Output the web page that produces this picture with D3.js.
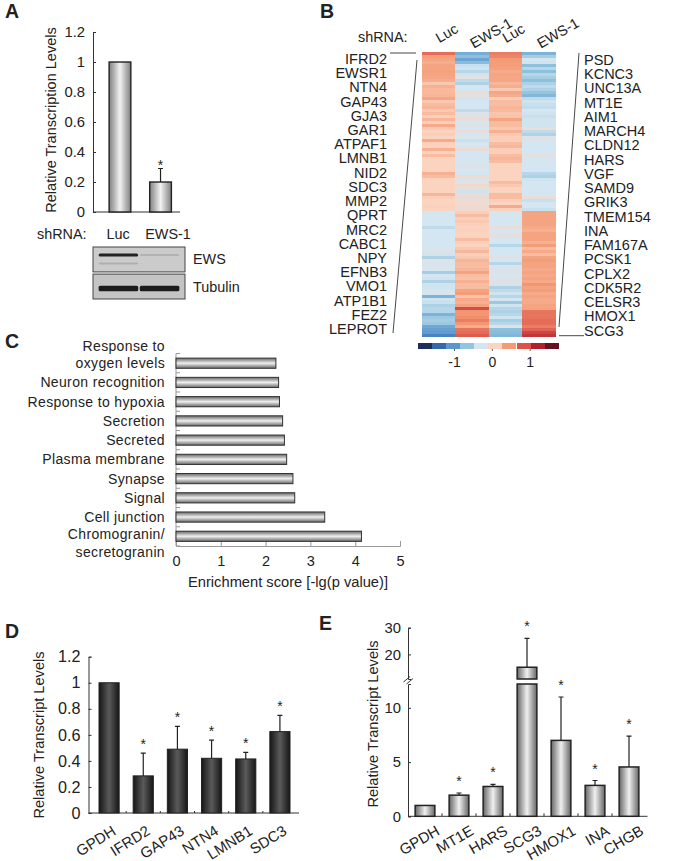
<!DOCTYPE html>
<html><head><meta charset="utf-8">
<script src="https://d3js.org/d3.v7.min.js"></script>
<style>
html,body{margin:0;padding:0;background:#fff}
svg{display:block}
text{font-family:"Liberation Sans",Arial,sans-serif;fill:#222}
</style></head><body><svg id="c" width="675" height="861"></svg>
<script>
// ---------- DATA ----------
const aCats=["Luc","EWS-1"], aVals=[1,0.2], aErr=[null,0.29], aStar=[false,true];
const aTicks=[0,0.2,0.4,0.6,0.8,1,1.2];
const blotRows=["EWS","Tubulin"];
const blotBands=[
 {row:0,lane:0,level:0.9,pos:0.32,h:3},{row:0,lane:0,level:0.15,pos:0.66,h:2},
 {row:0,lane:1,level:0.18,pos:0.32,h:1.6},
 {row:1,lane:0,level:.95,pos:0.58,h:5.5},{row:1,lane:1,level:.95,pos:0.58,h:5.5}];
const heatCols=["Luc","EWS-1","Luc","EWS-1"];
const leftGenes=["IFRD2","EWSR1","NTN4","GAP43","GJA3","GAR1","ATPAF1","LMNB1","NID2","SDC3","MMP2","QPRT","MRC2","CABC1","NPY","EFNB3","VMO1","ATP1B1","FEZ2","LEPROT"];
const rightGenes=["PSD","KCNC3","UNC13A","MT1E","AIM1","MARCH4","CLDN12","HARS","VGF","SAMD9","GRIK3","TMEM154","INA","FAM167A","PCSK1","CPLX2","CDK5R2","CELSR3","HMOX1","SCG3"];
const heatLuc1=[.85,.55,.5,.42,.5,.5,.52,.5,.48,.42,.2,.4,.32,.32,.35,.48,.2,.3,.35,.2,.3,.15,.35,.15,
 .45,.2,.1,.15,.1,.45,.12,.1,.4,.1,.3,.1,.1,.1,.1,.1,.4,.3,.1,.1,.1,.1,.1,.35,
 .15,.1,.1,.12,.1,
 -.28,-.28,-.28,-.28,-.28,-.4,-.28,-.28,-.28,-.28,-.28,-.28,-.28,-.2,-.3,-.5,-.25,-.2,-.28,
 -.25,-.55,-.28,-.3,-.5,-.3,-.3,-.28,-.25,-.85,-.3,-.35,-.5,-.45,-.45,-.85,-.6,-.55,-.6,-.95,-1.05,-1.1,-1.3];
const heatEws1=[-.9,-.7,-1,-.75,-.35,-.3,-.45,-.3,-.15,-.4,-.5,-.25,-.28,-.08,-.12,-.3,-.28,-.28,-.28,-.4,-.2,-.15,-.1,-.28,
 -.2,-.28,-.1,-.28,-.25,-.35,-.25,-.25,-.05,-.28,-.28,-.28,-.25,-.28,-.2,-.28,-.28,-.05,-.15,-.25,0,-.1,-.3,-.1,
 -.05,-.1,0,-.05,0,
 .15,.3,.15,.2,.12,.1,.12,.1,.1,.3,.15,.1,.2,.35,.15,.2,.35,.3,.3,
 .35,.5,.3,.25,.4,.3,.3,.5,.55,.25,.45,.4,.5,1.05,.6,.6,.65,.75,.6,.45,.8,.85,.95];
const heatLuc2=[.75,.7,.58,.55,.55,.52,.45,.5,.48,.48,.35,.42,.2,.48,.42,.15,.3,.28,.35,.32,.22,.25,.5,.3,
 .3,.2,.4,.2,.15,.15,.3,.35,.15,.15,.3,.35,.3,.1,.1,.1,.1,.1,.1,.3,.2,.1,.1,.3,
 .3,.15,.1,.45,.12,
 -.28,-.25,-.28,-.28,-.28,-.1,-.28,-.2,-.1,-.28,-.28,-.45,-.28,-.28,-.28,-.2,-.28,-.45,-.28,
 -.2,-.22,-.25,-.2,-.2,-.2,-.5,-.4,-.3,-.45,-.28,-.6,-.3,-.45,-.5,-.45,-.3,-.55,-.45,-.15,-.7,-.75,-.8];
const heatEws2=[-.85,-.55,-.25,-.3,-.7,-.45,-.7,-.45,-.55,-.7,-.5,-.4,-.5,-.65,-.8,-.4,-.3,-.35,-.38,-.28,-.3,-.35,-.3,-.3,
 -.3,-.1,-.4,-.5,-.2,-.2,-.28,-.28,-.28,-.28,-.15,-.28,-.28,-.28,-.28,-.28,-.45,-.5,-.3,-.28,-.28,-.28,-.28,-.28,
 -.1,-.35,-.28,-.28,-.35,
 .5,.5,.5,.5,.5,.45,.4,.5,.5,.5,.4,.55,.3,.45,.3,.5,.55,.5,.5,
 .45,.5,.45,.5,.45,.6,.5,.55,.45,.5,.45,.45,.5,.5,.8,.8,.8,.85,.85,.75,.9,1.1,1.2];
const heatPalette=["#1f2d5e","#3566b0","#5b97cf","#93c5df","#d4e6f1","#fbd5c2","#f49a74","#db5249","#b2202e","#680f24"];
const keyStops=[-1.77,-1.40,-1.03,-.65,-.28,.09,.46,.84,1.21,1.58];
const cellStops=[-1.77,-1.50,-1.15,-.65,-.28,.09,.58,1.0,1.35,1.7];
const legendTicks=[-1,0,1];
const cCats=["Response to\noxygen levels","Neuron recognition","Response to hypoxia","Secretion","Secreted","Plasma membrane","Synapse","Signal","Cell junction","Chromogranin/\nsecretogranin"];
const cVals=[2.23,2.29,2.31,2.38,2.42,2.47,2.61,2.65,3.32,4.14];
const cTicks=[0,1,2,3,4,5];
const dCats=["GPDH","IFRD2","GAP43","NTN4","LMNB1","SDC3"];
const dVals=[1,.285,.49,.42,.415,.625], dErr=[null,.46,.665,.56,.465,.75];
const dTicks=[0,.2,.4,.6,.8,1,1.2];
const eCats=["GPDH","MT1E","HARS","SCG3","HMOX1","INA","CHGB"];
const eVals=[1,1.95,2.75,15.2,7,2.85,4.55], eErr=[null,2.15,2.95,26,11,3.3,7.4];
const eTicksLow=[0,5,10], eTicksHigh=[20,30];
const eLowMax=12.2, eHighMin=10.8;
// ---------- HELPERS ----------
const svg=d3.select("#c"), defs=svg.append("defs");
const ink="#222";
function grad(id,horizontal,edge,mid){
  const g=defs.append("linearGradient").attr("id",id).attr("x1",0).attr("y1",0)
    .attr("x2",horizontal?1:0).attr("y2",horizontal?0:1);
  g.append("stop").attr("offset","0%").attr("stop-color",edge);
  g.append("stop").attr("offset","50%").attr("stop-color",mid);
  g.append("stop").attr("offset","100%").attr("stop-color",edge);
}
grad("gA",true,"#808080","#f2f2f2");
grad("gC",false,"#666","#f0f0f0");
grad("gD",true,"#161616","#5a5a5a");
grad("gE",true,"#666","#f0f0f0");
defs.append("filter").attr("id","blur").append("feGaussianBlur").attr("stdDeviation",0.7);
function styleAxis(g,color,width,size){
  g.selectAll("path,line").attr("stroke",color).attr("stroke-width",width);
  g.selectAll("text").attr("font-size",size).attr("fill",ink).style("font-family",'"Liberation Sans",Arial,sans-serif');
}
function txt(x,y,s,o={}){
  return svg.append("text").attr("x",x).attr("y",y).attr("font-size",o.size||14)
    .attr("text-anchor",o.anchor||"start").attr("font-weight",o.weight||null)
    .attr("dominant-baseline",o.base||"central").attr("transform",o.rot!=null?`rotate(${o.rot},${x},${y})`:null).text(s);
}
function stars(x,y){svg.append("text").attr("x",x).attr("y",y).attr("text-anchor","middle").attr("font-size",14).attr("fill","#333").text("*");}
// panel letters
[["A",5,18],["B",320,18],["C",5,348],["D",5,638],["E",319,630]].forEach(d=>txt(d[1],d[2],d[0],{size:19.5,weight:"bold",base:"auto"}));

// ---------- PANEL A ----------
(function(){
  const y=d3.scaleLinear().domain([0,1.2]).range([212,32]);
  const x=d3.scaleBand().domain(aCats).range([101,179.5]).paddingInner(.465).paddingOuter(.2);
  const ax=svg.append("g").attr("transform","translate(93,0)").call(d3.axisLeft(y).tickValues(aTicks).tickFormat(d=>d).tickSize(-3).tickPadding(8));
  styleAxis(ax,"#333",1,14.8);
  svg.append("line").attr("x1",93).attr("x2",180).attr("y1",y(0)).attr("y2",y(0)).attr("stroke","#333");
  aCats.forEach((c,i)=>{
    svg.append("rect").attr("x",x(c)).attr("y",y(aVals[i])).attr("width",x.bandwidth()).attr("height",y(0)-y(aVals[i])).attr("fill","url(#gA)").attr("stroke",ink).attr("stroke-width",1.4);
    if(aErr[i]!=null){
      const cx=x(c)+x.bandwidth()/2;
      svg.append("path").attr("d",`M${cx},${y(aVals[i])}V${y(aErr[i])}M${cx-2.5},${y(aErr[i])}H${cx+2.5}`).attr("stroke",ink).attr("stroke-width",1.2).attr("fill","none");
      if(aStar[i]) stars(cx,y(aErr[i])+1);
    }
  });
  txt(51,120,"Relative Transcription Levels",{anchor:"middle",rot:-90,size:14.5});
  txt(37,234,"shRNA:",{size:14.4});
  txt(118,234,aCats[0],{size:14.4,anchor:"middle"});
  txt(168,234,aCats[1],{size:14.4,anchor:"middle"});
  // blots
  const lane=d3.scaleBand().domain([0,1]).range([97,181]).padding(.04);
  const rowY=d3.scaleBand().domain(blotRows).range([247,299]).paddingInner(.08);
  blotRows.forEach((r,k)=>{
    svg.append("rect").attr("x",93).attr("y",rowY(r)).attr("width",92).attr("height",rowY.bandwidth()).attr("fill",k?"#c4c4c4":"#cbcbcb").attr("stroke","#444").attr("stroke-width",1);
    txt(193,rowY(r)+rowY.bandwidth()/2,r,{size:14.4});
  });
  const shade=d3.scaleLinear().domain([0,1]).range(["#cbcbcb","#111"]);
  svg.append("g").attr("filter","url(#blur)").selectAll("rect").data(blotBands).join("rect")
    .attr("x",d=>lane(d.lane)).attr("width",lane.bandwidth())
    .attr("y",d=>rowY(blotRows[d.row])+d.pos*rowY.bandwidth()-d.h/2).attr("height",d=>d.h)
    .attr("rx",1.5).attr("fill",d=>shade(d.level));
})();

// ---------- PANEL B ----------
(function(){
  const cols=[heatLuc1,heatEws1,heatLuc2,heatEws2];
  const color=d3.scaleLinear().domain(cellStops).range(heatPalette).clamp(true);
  const x=d3.scaleBand().domain(d3.range(4)).range([422,555.6]);
  const y=d3.scaleBand().domain(d3.range(heatLuc1.length)).range([52,337]);
  const g=svg.append("g").attr("shape-rendering","crispEdges");
  cols.forEach((col,k)=>{
    g.selectAll(null).data(col).join("rect").attr("x",x(k)).attr("y",(d,i)=>y(i)).attr("width",x.bandwidth()).attr("height",y.bandwidth()+.3).attr("fill",d=>color(d));
  });
  txt(358,37,"shRNA:",{size:14.4});
  heatCols.forEach((c,k)=>{
    const cx=x(k)+x.bandwidth()/2+(k%2?19:8);
    txt(cx,33,c,{anchor:"middle",rot:-30,size:14.4});
  });
  const lab=d3.scalePoint().domain(d3.range(20)).range([59,329]);
  const labR=d3.scalePoint().domain(d3.range(20)).range([60,330.5]);
  leftGenes.forEach((s,i)=>txt(387,lab(i),s,{anchor:"end",size:14.5}));
  rightGenes.forEach((s,i)=>txt(584,labR(i),s,{size:14.5}));
  const ln=(a,b,c,d)=>svg.append("line").attr("x1",a).attr("y1",b).attr("x2",c).attr("y2",d).attr("stroke","#333").attr("stroke-width",.9);
  ln(390,53,416,53); ln(417,60,393,333); ln(579,53,559,327); ln(559,335.7,584,335.7);
  // colour key
  const k=d3.scaleLinear().domain([-1,1]).range([454,529.7]);
  const segW=(k(keyStops[9]+.187)-k(keyStops[0]-.187))/10;
  svg.append("g").attr("shape-rendering","crispEdges").selectAll("rect").data(heatPalette).join("rect")
    .attr("x",(d,i)=>k(keyStops[i]-.187)).attr("y",343).attr("width",segW+.2).attr("height",6).attr("fill",d=>d);
  const ax=svg.append("g").attr("transform","translate(0,349)").call(d3.axisBottom(k).tickValues(legendTicks).tickFormat(d=>d).tickSize(2).tickPadding(6));
  ax.select(".domain").remove();
  styleAxis(ax,"#333",.8,14);
})();

// ---------- PANEL C ----------
(function(){
  const x=d3.scaleLinear().domain([0,5]).range([176,400]);
  const y=d3.scaleBand().domain(cCats).range([353.5,546]).paddingInner(.47).paddingOuter(.24);
  const ax=svg.append("g").attr("transform","translate(0,546)").call(d3.axisBottom(x).tickValues(cTicks).tickFormat(d=>d).tickSize(-5).tickPadding(5));
  styleAxis(ax,"#999",1,14.5);
  ax.selectAll("text").attr("dy","1em");
  const ay=svg.append("g").attr("transform","translate(176,0)");
  ay.append("path").attr("d","M0,353.5V546").attr("stroke","#999").attr("fill","none");
  const t=d3.scalePoint().domain(d3.range(11)).range([353.5,546]);
  ay.selectAll("line").data(t.domain()).join("line").attr("x1",0).attr("x2",4).attr("y1",d=>t(d)).attr("y2",d=>t(d)).attr("stroke","#999");
  cCats.forEach((c,i)=>{
    svg.append("rect").attr("x",x(0)).attr("y",y(c)).attr("width",x(cVals[i])-x(0)).attr("height",y.bandwidth()).attr("fill","url(#gC)").attr("stroke","#333").attr("stroke-width",1);
    const parts=c.split("\n"), cy=y(c)+y.bandwidth()/2;
    parts.forEach((p,j)=>{
      const base=parts.length===1?cy:(i===0?cy-17+j*17:cy-2+j*18);
      txt(165,base,p,{anchor:"end",size:14}).attr("letter-spacing",".35px");
    });
  });
  txt(288,582,"Enrichment score [-lg(p value)]",{anchor:"middle",size:14.7});
})();

// ---------- PANEL D ----------
(function(){
  const y=d3.scaleLinear().domain([0,1.2]).range([813,656.7]);
  const x=d3.scaleBand().domain(dCats).range([92,297]).paddingInner(.41).paddingOuter(.205);
  const ax=svg.append("g").attr("transform","translate(88.5,0)").call(d3.axisLeft(y).tickValues(dTicks).tickFormat(d=>d).tickSize(-3).tickPadding(8));
  styleAxis(ax,"#333",1,16.2);
  const ab=svg.append("g").attr("transform","translate(0,813)");
  ab.append("path").attr("d","M88.5,0H299").attr("stroke","#333").attr("fill","none");
  const step=x.step();
  ab.selectAll("line").data(dCats.slice(1)).join("line").attr("x1",d=>x(d)-step*.205).attr("x2",d=>x(d)-step*.205).attr("y1",0).attr("y2",-2).attr("stroke","#333");
  dCats.forEach((c,i)=>{
    const cx=x(c)+x.bandwidth()/2;
    svg.append("rect").attr("x",x(c)).attr("y",y(dVals[i])).attr("width",x.bandwidth()).attr("height",y(0)-y(dVals[i])).attr("fill","url(#gD)").attr("stroke","#222").attr("stroke-width",1);
    if(dErr[i]!=null){
      svg.append("path").attr("d",`M${cx},${y(dVals[i])}V${y(dErr[i])}M${cx-2.5},${y(dErr[i])}H${cx+2.5}`).attr("stroke",ink).attr("stroke-width",1.2).attr("fill","none");
      stars(cx,y(dErr[i])-4);
    }
    txt(cx+5,829,c,{anchor:"end",rot:-32,size:15});
  });
  txt(39,735,"Relative Transcript Levels",{anchor:"middle",rot:-90,size:14.6});
})();

// ---------- PANEL E ----------
(function(){
  const low=d3.scaleLinear().domain([0,eLowMax]).range([816.3,684]);
  const high=d3.scaleLinear().domain([eHighMin,30]).range([679,627.7]);
  const x=d3.scaleBand().domain(eCats).range([408,646]).paddingInner(.42).paddingOuter(.21);
  const a1=svg.append("g").attr("transform","translate(408,0)").call(d3.axisLeft(low).tickValues(eTicksLow).tickFormat(d=>d).tickSize(-3).tickPadding(7));
  const a2=svg.append("g").attr("transform","translate(408,0)").call(d3.axisLeft(high).tickValues(eTicksHigh).tickFormat(d=>d).tickSize(-3).tickPadding(7));
  styleAxis(a1,"#333",1,14.8); styleAxis(a2,"#333",1,14.8);
  const ab=svg.append("g").attr("transform","translate(0,816.3)");
  ab.append("path").attr("d","M408,0H647.5").attr("stroke","#333").attr("fill","none");
  ab.selectAll("line").data(eCats.slice(1)).join("line").attr("x1",d=>x(d)-x.step()*.21).attr("x2",d=>x(d)-x.step()*.21).attr("y1",0).attr("y2",-3).attr("stroke","#333");
  svg.append("path").attr("d","M403.5,682L410,676.5M406.5,684L413,678.5").attr("stroke","#333").attr("stroke-width",1).attr("fill","none");
  eCats.forEach((c,i)=>{
    const cx=x(c)+x.bandwidth()/2, v=eVals[i];
    const bar=(top,bot)=>svg.append("rect").attr("x",x(c)).attr("y",top).attr("width",x.bandwidth()).attr("height",bot-top).attr("fill","url(#gE)").attr("stroke",ink).attr("stroke-width",1.5);
    if(v>eLowMax){bar(low(eLowMax),low(0));bar(high(v),high(eHighMin));}
    else bar(low(v),low(0));
    if(eErr[i]!=null){
      const sc=v>eLowMax?high:low;
      svg.append("path").attr("d",`M${cx},${sc(v)}V${sc(eErr[i])}M${cx-2.5},${sc(eErr[i])}H${cx+2.5}`).attr("stroke",ink).attr("stroke-width",1.2).attr("fill","none");
      stars(cx,sc(eErr[i])-7);
    }
    txt(cx+13,829,c,{anchor:"end",rot:-30,size:15});
  });
  txt(373,724,"Relative Transcript Levels",{anchor:"middle",rot:-90,size:14.6});
})();
</script></body></html>
